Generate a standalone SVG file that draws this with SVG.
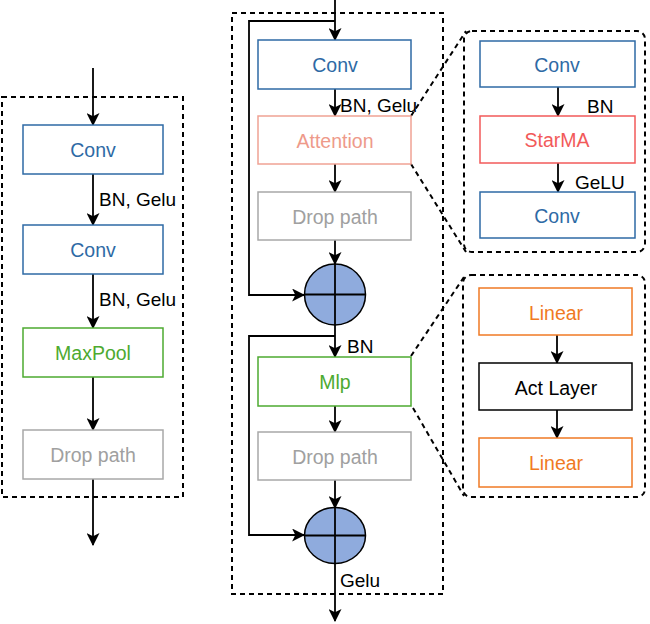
<svg xmlns="http://www.w3.org/2000/svg" width="650" height="624" viewBox="0 0 650 624">
<defs>
<marker id="ah" viewBox="0 0 12 12" refX="11" refY="6" markerWidth="13" markerHeight="13" markerUnits="userSpaceOnUse" orient="auto">
<path d="M0,0 L12,6 L0,12 L3,6 Z" fill="#000"/>
</marker>
</defs>
<style>
text{font-family:"Liberation Sans",Arial,sans-serif;font-size:19.5px;text-anchor:middle;dominant-baseline:central}
.lbl{font-size:19px;text-anchor:start;fill:#000}
.box{fill:#fff;stroke-width:1.5}
.blue{stroke:#2E6AA5}.tblue{fill:#2E6AA5}
.green{stroke:#4DAA30}.tgreen{fill:#4DAA30}
.gray{stroke:#A8A8A8}.tgray{fill:#A0A0A0}
.salmon{stroke:#F0A294}.tsalmon{fill:#EE9A8A}
.red{stroke:#F25A5A}.tred{fill:#F25A5A}
.orange{stroke:#F07A24}.torange{fill:#F07A24}
.black{stroke:#000}.tblack{fill:#000}
.dash{fill:none;stroke:#000;stroke-width:2;stroke-dasharray:5,4}
.ln{fill:none;stroke:#000;stroke-width:1.8}
.arr{fill:none;stroke:#000;stroke-width:1.8;marker-end:url(#ah)}
.sum{fill:#8FABDD;stroke:#000;stroke-width:1.5}
</style>
<g id="frames">
<rect class="dash" x="2" y="97" width="181" height="400"/>
<rect class="dash" x="232" y="13" width="211" height="581"/>
<rect class="dash" x="464" y="31" width="181" height="221" rx="8"/>
<rect class="dash" x="463" y="275" width="182" height="222" rx="8"/>
</g>
<g id="connectors">
<line class="arr" x1="93" y1="68" x2="93" y2="125"/>
<line class="arr" x1="93" y1="174" x2="93" y2="225"/>
<line class="arr" x1="93" y1="274" x2="93" y2="328"/>
<line class="arr" x1="93" y1="377" x2="93" y2="430"/>
<line class="arr" x1="93" y1="479" x2="93" y2="545"/>
<line class="arr" x1="335" y1="0" x2="335" y2="40"/>
<polyline class="arr" points="335,21 249,21 249,295 304,295"/>
<line class="arr" x1="335" y1="89" x2="335" y2="116"/>
<line class="arr" x1="335" y1="164" x2="335" y2="192"/>
<line class="arr" x1="335" y1="240" x2="335" y2="264"/>
<line class="arr" x1="335" y1="325" x2="335" y2="357"/>
<polyline class="arr" points="335,336 249,336 249,535 304,535"/>
<line class="arr" x1="335" y1="406" x2="335" y2="432"/>
<line class="arr" x1="335" y1="480" x2="335" y2="508"/>
<line class="arr" x1="335" y1="563" x2="335" y2="621"/>
<line class="arr" x1="558" y1="87" x2="558" y2="116"/>
<line class="arr" x1="558" y1="163" x2="558" y2="192"/>
<line class="arr" x1="557" y1="335" x2="557" y2="363"/>
<line class="arr" x1="557" y1="410" x2="557" y2="438"/>
<line class="dash" x1="411" y1="116" x2="466" y2="31"/>
<line class="dash" x1="411" y1="164" x2="466" y2="252"/>
<line class="dash" x1="411" y1="356" x2="464" y2="277"/>
<line class="dash" x1="413" y1="408" x2="464" y2="496"/>
</g>
<g id="left-conv1"><rect class="box blue" x="23" y="125" width="140" height="49"/><text class="tblue" x="93" y="150">Conv</text></g>
<g id="left-conv2"><rect class="box blue" x="23" y="225" width="140" height="49"/><text class="tblue" x="93" y="250">Conv</text></g>
<g id="left-maxpool"><rect class="box green" x="23" y="328" width="140" height="49"/><text class="tgreen" x="93" y="353">MaxPool</text></g>
<g id="left-drop"><rect class="box gray" x="23" y="430" width="140" height="49"/><text class="tgray" x="93" y="455">Drop path</text></g>
<g id="mid-conv"><rect class="box blue" x="258" y="40" width="153" height="49"/><text class="tblue" x="335" y="65">Conv</text></g>
<g id="mid-attention"><rect class="box salmon" x="258" y="116" width="153" height="48"/><text class="tsalmon" x="335" y="141">Attention</text></g>
<g id="mid-drop1"><rect class="box gray" x="258" y="192" width="153" height="48"/><text class="tgray" x="335" y="217">Drop path</text></g>
<g id="sum1"><ellipse class="sum" cx="335" cy="294.5" rx="30.5" ry="30.5"/><line class="ln" x1="304.5" y1="294.5" x2="365.5" y2="294.5"/><line class="ln" x1="335" y1="264" x2="335" y2="325"/></g>
<g id="mid-mlp"><rect class="box green" x="258" y="357" width="153" height="49"/><text class="tgreen" x="335" y="382">Mlp</text></g>
<g id="mid-drop2"><rect class="box gray" x="258" y="432" width="153" height="48"/><text class="tgray" x="335" y="457">Drop path</text></g>
<g id="sum2"><ellipse class="sum" cx="335" cy="535.5" rx="30.5" ry="28"/><line class="ln" x1="304.5" y1="535.5" x2="365.5" y2="535.5"/><line class="ln" x1="335" y1="508" x2="335" y2="563"/></g>
<g id="r-conv1"><rect class="box blue" x="480" y="41" width="155" height="46"/><text class="tblue" x="557" y="65">Conv</text></g>
<g id="r-starma"><rect class="box red" x="480" y="116" width="155" height="47"/><text class="tred" x="557" y="140">StarMA</text></g>
<g id="r-conv2"><rect class="box blue" x="480" y="192" width="155" height="46"/><text class="tblue" x="557" y="216">Conv</text></g>
<g id="r-linear1"><rect class="box orange" x="479" y="288" width="153" height="47"/><text class="torange" x="556" y="313">Linear</text></g>
<g id="r-act"><rect class="box black" x="479" y="363" width="153" height="47"/><text class="tblack" x="556" y="388">Act Layer</text></g>
<g id="r-linear2"><rect class="box orange" x="479" y="438" width="153" height="49"/><text class="torange" x="556" y="463">Linear</text></g>
<g id="labels">
<text class="lbl" x="99" y="199">BN, Gelu</text>
<text class="lbl" x="99" y="299">BN, Gelu</text>
<text class="lbl" x="340" y="105">BN, Gelu</text>
<text class="lbl" x="347" y="346">BN</text>
<text class="lbl" x="340" y="580">Gelu</text>
<text class="lbl" x="587" y="106">BN</text>
<text class="lbl" x="575" y="182">GeLU</text>
</g>
</svg>
